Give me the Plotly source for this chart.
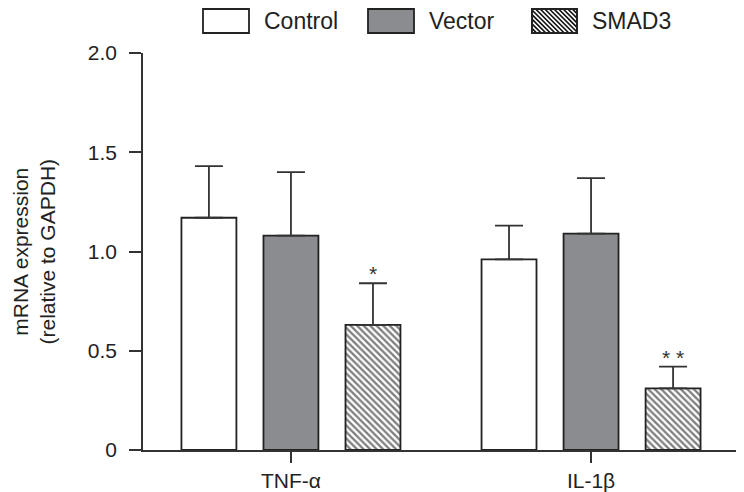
import plotly.graph_objects as go

categories = ["TNF-α", "IL-1β"]
groups = ["Control", "Vector", "SMAD3"]
control_mean = [1.17, 0.96]
control_sd = [0.26, 0.17]
vector_mean = [1.08, 1.09]
vector_sd = [0.32, 0.28]
smad3_mean = [0.63, 0.31]
smad3_sd = [0.21, 0.11]
significance = ["*", "* *"]
y_tickvals = [0, 0.5, 1.0, 1.5, 2.0]
y_ticktext = ["0", "0.5", "1.0", "1.5", "2.0"]

W, H = 744, 492
OFF = 8  # page body margin offset
# plot area in page pixels: x 143..742, y 53..450
PL, PR, PT, PB = 143, 742, 53, 450
ML, MT = PL - OFF, PT - OFF
MR, MB = W - (PR - OFF), H - (PB - OFF)
PW, PH = PR - PL, PB - PT
BARGAP = 0.18
BARGROUPGAP = 0.33
FONT = "Liberation Sans, Arial, sans-serif"
EDGE = "#222222"
GRAY = "#8b8c8f"


def px_x(px):
    return (px - PL) / PW


def px_y(py):
    return (PB - py) / PH


fig = go.Figure()

styles = [
    dict(color="white"),
    dict(color=GRAY),
    dict(color="white", pattern=dict(shape="\\", fgcolor="#000000", bgcolor="white", size=4.6, solidity=0.5)),
]
means = [control_mean, vector_mean, smad3_mean]
sds = [control_sd, vector_sd, smad3_sd]

for name, m, s, st in zip(groups, means, sds, styles):
    fig.add_trace(go.Bar(
        name=name, x=categories, y=m,
        marker=dict(line=dict(color=EDGE, width=1.8), **st),
        error_y=dict(type="data", array=s, arrayminus=[0] * len(s), symmetric=False,
                     color="#333333", thickness=1.8, width=14),
        showlegend=False,
    ))

# significance marks above the SMAD3 error bars
slot = (1 - BARGAP) / len(groups)
for i, (m, s, txt) in enumerate(zip(smad3_mean, smad3_sd, significance)):
    fig.add_annotation(x=i + slot, y=m + s, xref="x", yref="y", text=txt, showarrow=False,
                       yanchor="bottom", yshift=-4,
                       font=dict(family=FONT, size=21, color="#333333"))

# custom legend
legend_boxes = [(203, 249), (368, 414), (532, 577)]
top_py, bot_py = 9, 33
for (x0, x1), name, st in zip(legend_boxes, groups, styles):
    fig.add_shape(type="rect", xref="paper", yref="paper",
                  x0=px_x(x0), x1=px_x(x1), y0=px_y(bot_py), y1=px_y(top_py),
                  fillcolor=st["color"], line=dict(color=EDGE, width=1.8), layer="above")
    if "pattern" in st:
        step = 4.6
        segs = []
        hgt = bot_py - top_py
        xs = x0 - hgt
        while xs < x1:
            ax, ay = xs, top_py
            bx, by = xs + hgt, bot_py
            if ax < x0:
                ay = top_py + (x0 - ax)
                ax = x0
            if bx > x1:
                by = bot_py - (bx - x1)
                bx = x1
            if bx > ax:
                segs.append(f"M{px_x(ax)},{px_y(ay)}L{px_x(bx)},{px_y(by)}")
            xs += step
        fig.add_shape(type="path", xref="paper", yref="paper", path="".join(segs),
                      line=dict(color="#111111", width=1.7), layer="above")
        fig.add_shape(type="rect", xref="paper", yref="paper",
                      x0=px_x(x0), x1=px_x(x1), y0=px_y(bot_py), y1=px_y(top_py),
                      line=dict(color=EDGE, width=1.8), layer="above")
    fig.add_annotation(x=px_x(x1 + 13), y=px_y((top_py + bot_py) / 2), xref="paper", yref="paper",
                       text=name, showarrow=False, xanchor="left", yanchor="middle",
                       font=dict(family=FONT, size=23, color="#222222"))

# y-axis title (two lines)
fig.add_annotation(x=px_x(33), y=0.5, xref="paper", yref="paper",
                   text="mRNA expression<br>(relative to GAPDH)", showarrow=False,
                   textangle=-90, xanchor="center", yanchor="middle", borderpad=0,
                   font=dict(family=FONT, size=21, color="#222222"))

fig.update_layout(
    width=W, height=H,
    margin=dict(l=ML, r=MR, t=MT, b=MB, autoexpand=False),
    paper_bgcolor="white", plot_bgcolor="white",
    barmode="group", bargap=BARGAP, bargroupgap=BARGROUPGAP,
    font=dict(family=FONT, size=21, color="#222222"),
    xaxis=dict(range=[-0.493, 1.503], showline=True, linecolor="#333333", linewidth=1.5,
               ticks="outside", ticklen=11, tickwidth=1.5, tickcolor="#333333",
               showgrid=False, zeroline=False, tickfont=dict(size=21)),
    yaxis=dict(range=[0, 2.0], showline=True, linecolor="#333333", linewidth=1.5,
               ticks="outside", ticklen=12, tickwidth=1.5, tickcolor="#333333",
               tickvals=y_tickvals, ticktext=y_ticktext, showgrid=False, zeroline=False,
               tickfont=dict(size=21), ticklabelstandoff=8),
)

fig.write_html("out.html")
